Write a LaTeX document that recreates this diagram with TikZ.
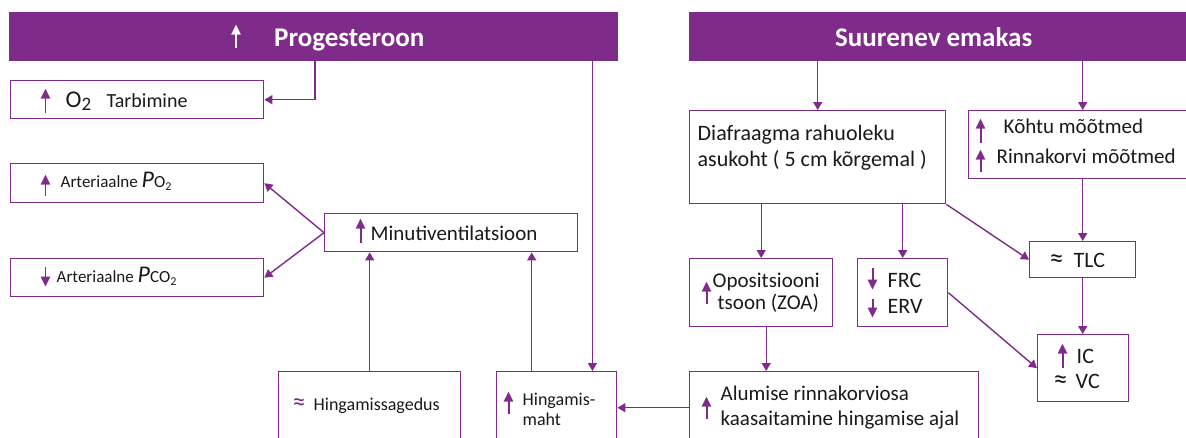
\documentclass[tikz,border=0pt]{standalone}
\usepackage{fontspec}
\usepackage{graphicx}
\setmainfont{Carlito}
\newfontfamily\symf{DejaVu Sans}
\usetikzlibrary{arrows.meta}
\definecolor{vio}{HTML}{7E2B8A}
\definecolor{ink}{HTML}{1A1A1A}
\newcommand\fs[1]{\fontsize{#1}{#1}\selectfont}
\newcommand\pos[2]{\smash{\makebox[0pt][l]{\hspace*{#1}#2}}}
\newcommand\itm[3]{\par\vspace*{#2}\noindent\pos{#1}{#3}\par\vspace*{-#2}}
\newcommand\bxx[3]{\parbox[c][#2][t]{#1}{\baselineskip=0pt\lineskip=0pt\lineskiplimit=-1000pt\parindent=0pt #3}}
\newcommand\uar[1][15pt]{\vbox{\offinterlineskip\halign{\hfil##\hfil\cr{\symf\fs{13}▲}\cr\noalign{\kern-1.5pt}\rule{1.6pt}{#1}\cr}}}
\newcommand\dar[1][13pt]{\vbox{\offinterlineskip\halign{\hfil##\hfil\cr\rule{1.6pt}{#1}\cr\noalign{\kern-2pt}{\symf\fs{13}▼}\cr}}}
\tikzset{
  box/.style={draw=vio, line width=1.4pt, inner sep=0pt, anchor=north west, text=ink},
  hdr/.style={fill=vio, draw=none, inner sep=0pt, anchor=north west, text=white},
  conn/.style={draw=vio, line width=1.4pt, -{Triangle[width=9pt,length=8pt]}},
}
\begin{document}
\begin{tikzpicture}[x=1pt,y=-1pt]
\useasboundingbox[fill=white] (0,0) rectangle (1186,437);
\clip (0,0) rectangle (1186,437);
% headers
\node[hdr] (h1) at (9,12) {\bxx{609pt}{49pt}{%
  \itm{222pt}{36pt}{\uar}%
  \itm{265pt}{34pt}{\fs{27}\bfseries Progesteroon}}};
\node[hdr] (h2) at (689,12) {\bxx{497pt}{49pt}{%
  \itm{146pt}{34pt}{\fs{27}\bfseries Suurenev emakas}}};
% left column
\node[box] (o2) at (10,80) {\bxx{253pt}{38pt}{%
  \itm{30pt}{32pt}{\color{vio}\uar}%
  \itm{55pt}{27pt}{\fs{24}O\raisebox{-3pt}{\fs{19}2}}%
  \itm{96pt}{27pt}{\fs{20}Tarbimine}}};
\node[box] (po2) at (10,163) {\bxx{253pt}{39pt}{%
  \itm{30pt}{32pt}{\color{vio}\uar[12pt]}%
  \itm{50pt}{24pt}{\fs{17}Arteriaalne {\itshape\fs{24}P}\fs{17}O\raisebox{-3pt}{\fs{12}2}}}};
\node[box] (pco2) at (10,258) {\bxx{253pt}{38pt}{%
  \itm{30pt}{27pt}{\color{vio}\dar[12pt]}%
  \itm{46pt}{24pt}{\fs{17}Arteriaalne {\itshape\fs{24}P}\fs{17}CO\raisebox{-3pt}{\fs{12}2}}}};
\node[box] (min) at (324,213) {\bxx{253pt}{38pt}{%
  \itm{31pt}{29pt}{\color{vio}\uar}%
  \itm{46pt}{27pt}{\fs{21}Minutiventilatsioon}}};
\node[box] (hs) at (278,371) {\bxx{182pt}{70pt}{%
  \itm{14pt}{39pt}{\fs{26}\color{vio}≈}%
  \itm{35pt}{39pt}{\fs{18}Hingamissagedus}}};
\node[box] (hm) at (496,371) {\bxx{120pt}{70pt}{%
  \itm{7pt}{42pt}{\color{vio}\uar[13pt]}%
  \itm{26pt}{34pt}{\fs{18}Hingamis-}%
  \itm{26pt}{54pt}{\fs{18}maht}}};
\node[box] (alu) at (689,371) {\bxx{289pt}{72pt}{%
  \itm{12pt}{47pt}{\color{vio}\uar[13pt]}%
  \itm{31pt}{29pt}{\fs{21}Alumise rinnakorviosa}%
  \itm{31pt}{54pt}{\fs{21}kaasaitamine hingamise ajal}}};
% right part
\node[box] (dia) at (689,110) {\bxx{256pt}{93pt}{%
  \itm{8pt}{30pt}{\fs{22}Diafraagma rahuoleku}%
  \itm{8pt}{56pt}{\fs{22}asukoht ( 5 cm kõrgemal )}}};
\node[box] (kh) at (968,110) {\bxx{225pt}{68pt}{%
  \itm{7pt}{32pt}{\color{vio}\uar}%
  \itm{35pt}{23pt}{\fs{21}Kõhtu mõõtmed}%
  \itm{7pt}{61pt}{\color{vio}\uar[13pt]}%
  \itm{28pt}{53pt}{\fs{21}Rinnakorvi mõõtmed}}};
\node[box] (tlc) at (1029,241) {\bxx{106pt}{36pt}{%
  \itm{20pt}{26pt}{\fs{28}≈}%
  \itm{44pt}{26pt}{\fs{22}TLC}}};
\node[box] (opos) at (689,258) {\bxx{143pt}{68pt}{%
  \itm{12pt}{45pt}{\color{vio}\uar[13pt]}%
  \itm{23pt}{29pt}{\fs{21}Opositsiooni}%
  \itm{28pt}{51pt}{\fs{21}tsoon (ZOA)}}};
\node[box] (frc) at (857,258) {\bxx{90pt}{68pt}{%
  \itm{10pt}{30pt}{\color{vio}\dar[14pt]}%
  \itm{30pt}{29pt}{\fs{22}FRC}%
  \itm{10pt}{58pt}{\color{vio}\dar[11pt]}%
  \itm{30pt}{55pt}{\fs{22}ERV}}};
\node[box] (ic) at (1037,334) {\bxx{91pt}{67pt}{%
  \itm{20pt}{33pt}{\color{vio}\uar}%
  \itm{39pt}{29pt}{\fs{22}IC}%
  \itm{16pt}{54pt}{\fs{28}≈}%
  \itm{38pt}{54pt}{\fs{22}VC}}};
% connectors
\draw[conn] ([xshift=306pt]h1.south west) |- (o2.east);
\draw[conn] ([xshift=-26pt]h1.south east) -- ([xshift=-26pt]h1.south east |- hm.north);
\draw[conn] (min.west) -- (po2.east);
\draw[conn] (min.west) -- (pco2.east);
\draw[conn] (hs.north) -- (hs.north |- min.south);
\draw[conn] ([xshift=-25pt]hm.north) -- ([xshift=-25pt]hm.north |- min.south);
\draw[conn] (alu.west) -- (alu.west -| hm.east);
\draw[conn] (dia.north |- h2.south) -- (dia.north);
\draw[conn] (tlc.north |- h2.south) -- (tlc.north |- kh.north);
\draw[conn] (tlc.north |- kh.south) -- (tlc.north);
\draw[conn] (tlc.south) -- (tlc.south |- ic.north);
\draw[conn] (dia.south east) -- (tlc.west);
\draw[conn] (opos.north |- dia.south) -- (opos.north);
\draw[conn] (frc.north |- dia.south) -- (frc.north);
\draw[conn] (frc.east) -- (ic.west);
\draw[conn] ([xshift=5pt]opos.south) -- ([xshift=5pt]opos.south |- alu.north);
\end{tikzpicture}
\end{document}
